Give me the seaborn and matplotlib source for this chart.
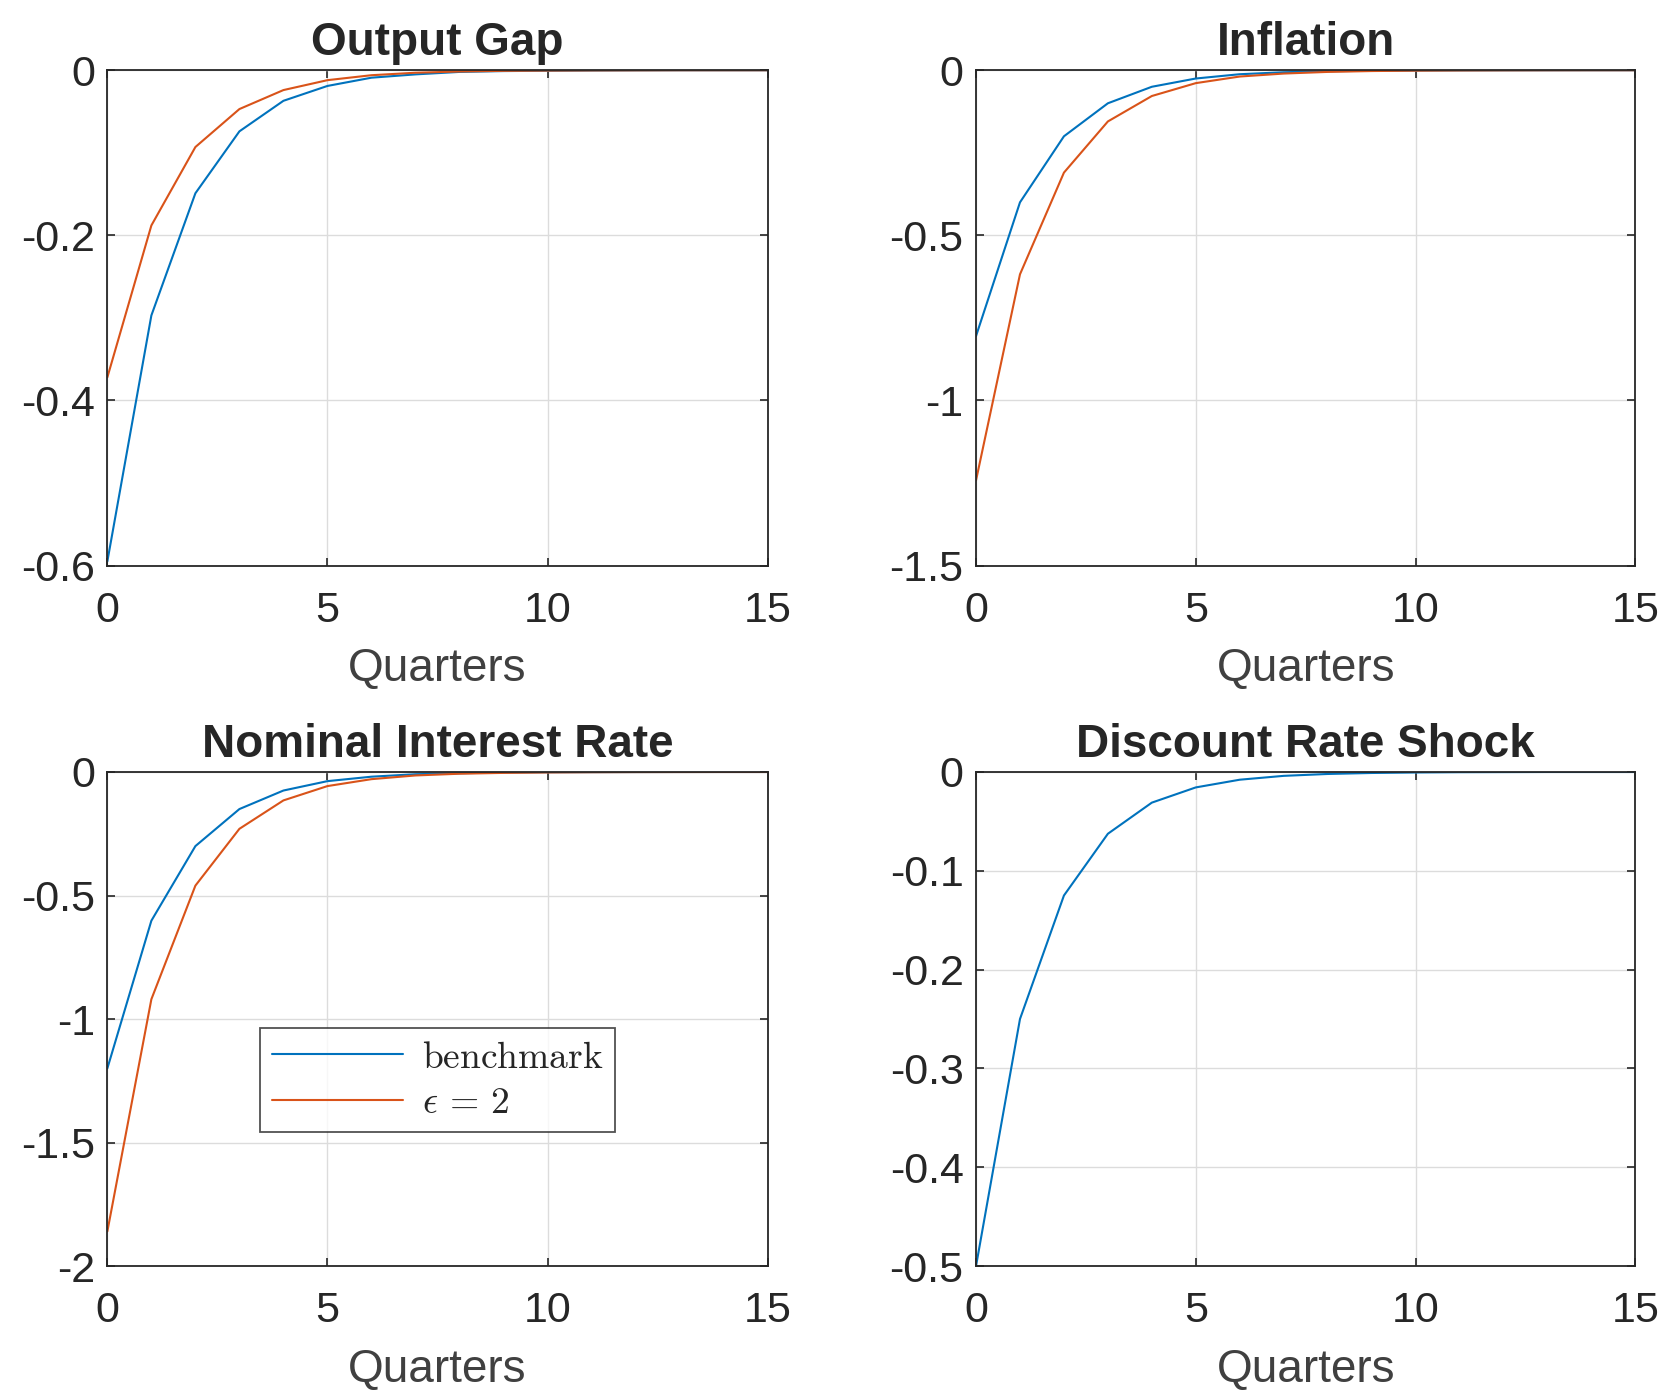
import pandas as pd
import matplotlib
matplotlib.use("Agg")
import matplotlib.pyplot as plt
import seaborn as sns

# Impulse responses (quarters 0..15)
quarters = list(range(16))

output_gap_bench = [-0.595, -0.297, -0.149, -0.074, -0.037, -0.019, -0.009, -0.005,
                    -0.002, -0.001, -0.0006, -0.0003, -0.0001, 0.0, 0.0, 0.0]
output_gap_eps2 = [-0.372, -0.188, -0.093, -0.047, -0.024, -0.012, -0.006, -0.003,
                   -0.0015, -0.0007, -0.0004, -0.0002, -0.0001, 0.0, 0.0, 0.0]

inflation_bench = [-0.805, -0.40, -0.20, -0.10, -0.05, -0.025, -0.012, -0.006,
                   -0.003, -0.0015, -0.0008, -0.0004, -0.0002, -0.0001, 0.0, 0.0]
inflation_eps2 = [-1.242, -0.618, -0.31, -0.155, -0.078, -0.039, -0.019, -0.010,
                  -0.005, -0.0024, -0.0012, -0.0006, -0.0003, -0.0001, 0.0, 0.0]

interest_bench = [-1.20, -0.602, -0.30, -0.15, -0.075, -0.037, -0.019, -0.009,
                  -0.005, -0.002, -0.001, -0.0006, -0.0003, -0.0001, 0.0, 0.0]
interest_eps2 = [-1.86, -0.92, -0.46, -0.23, -0.115, -0.057, -0.029, -0.014,
                 -0.007, -0.0036, -0.0018, -0.0009, -0.0004, -0.0002, 0.0, 0.0]

discount_shock = [-0.5, -0.25, -0.125, -0.0625, -0.031, -0.0156, -0.0078, -0.0039,
                  -0.002, -0.001, -0.0005, -0.0002, -0.0001, 0.0, 0.0, 0.0]

labels = [r"$\mathrm{benchmark}$", r"$\epsilon\,=\,2$"]
blue = "#0072BD"
orange = "#D95319"

sns.set_theme(style="ticks")
plt.rcParams["font.family"] = ["Liberation Sans", "DejaVu Sans"]
plt.rcParams["mathtext.fontset"] = "cm"
plt.rcParams["axes.unicode_minus"] = False

fig = plt.figure(figsize=(16.67, 13.94), dpi=100)

# panel positions [left, bottom, width, height] in figure fractions
positions = [
    [0.0644, 0.5943, 0.3961, 0.3553],
    [0.5855, 0.5943, 0.3955, 0.3553],
    [0.0644, 0.0918, 0.3961, 0.3544],
    [0.5855, 0.0918, 0.3955, 0.3544],
]

panels = [
    ("Output Gap", [output_gap_bench, output_gap_eps2], (-0.6, 0), [-0.6, -0.4, -0.2, 0]),
    ("Inflation", [inflation_bench, inflation_eps2], (-1.5, 0), [-1.5, -1, -0.5, 0]),
    ("Nominal Interest Rate", [interest_bench, interest_eps2], (-2, 0), [-2, -1.5, -1, -0.5, 0]),
    ("Discount Rate Shock", [discount_shock], (-0.5, 0), [-0.5, -0.4, -0.3, -0.2, -0.1, 0]),
]

for pos, (title, series, ylim, yticks) in zip(positions, panels):
    ax = fig.add_axes(pos)
    for i, vals in enumerate(series):
        df = pd.DataFrame({"Quarters": quarters, "value": vals})
        sns.lineplot(data=df, x="Quarters", y="value", ax=ax,
                     color=[blue, orange][i], linewidth=1.5, label=labels[i])
    ax.set_xlim(0, 15)
    ax.set_ylim(*ylim)
    ax.set_xticks([0, 5, 10, 15])
    ax.set_yticks(yticks)
    ax.set_yticklabels([f"{t:g}" for t in yticks])
    ax.grid(True, color="#dcdcdc", linewidth=1.0)
    ax.set_axisbelow(True)
    for s in ax.spines.values():
        s.set_color("#262626")
        s.set_linewidth(1.3)
    ax.tick_params(direction="in", length=6, width=1.2, top=True, right=True,
                   labelsize=31, color="#262626", labelcolor="#262626")
    ax.tick_params(axis="y", pad=9)
    ax.tick_params(axis="x", pad=18)
    ax.set_title(title, fontsize=33, fontweight="bold", pad=11)
    ax.set_xlabel("Quarters", fontsize=33, labelpad=12, color="#404040")
    ax.set_ylabel("")
    if title == "Nominal Interest Rate":
        leg = ax.legend(loc="center", bbox_to_anchor=(0.5, 0.376), fontsize=27,
                        frameon=True, fancybox=False, handlelength=3.5,
                        borderpad=0.3, labelspacing=0.25, handletextpad=0.5)
        leg.get_frame().set_edgecolor("#262626")
        leg.get_frame().set_linewidth(1.3)
    else:
        leg = ax.get_legend()
        if leg is not None:
            leg.remove()

fig.savefig("out.png", dpi=100)
